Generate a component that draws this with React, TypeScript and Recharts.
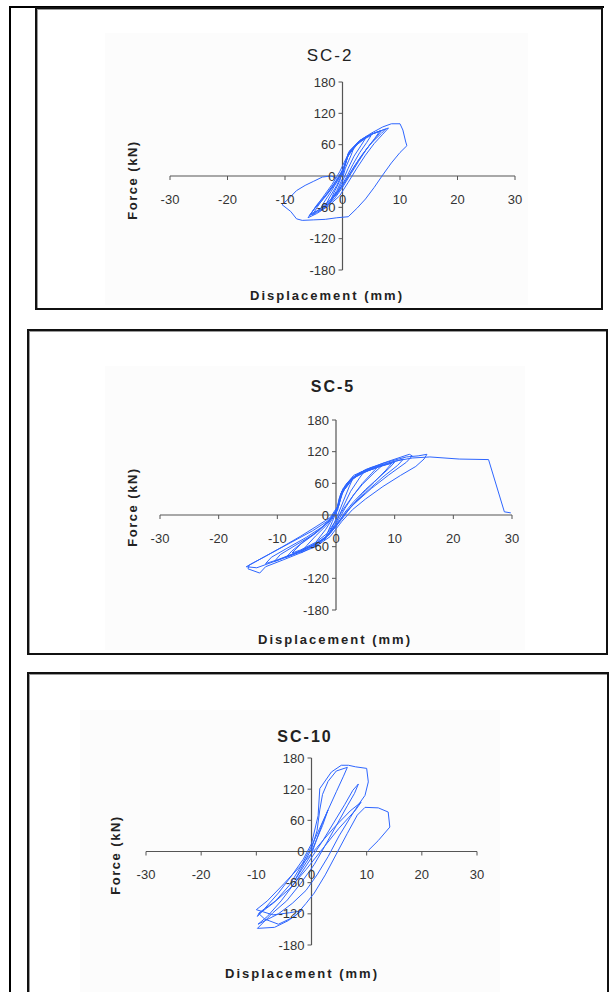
import { LineChart, Line, XAxis, YAxis, ReferenceLine } from 'recharts'

const xTicks = [-30, -20, -10, 0, 10, 20, 30]
const yTicks = [-180, -120, -60, 0, 60, 120, 180]

// [displacement (mm), force (kN)]
const sc2: [number, number][] = [
  [0, 0], [0.5, 25], [1, 40], [2, 55], [1.5, 40], [0.5, 15], [0, -5], [-1, -28], [-2, -45], [-1.5, -32], [-0.5, -10], [0, 8],
  [0.8, 35], [2, 55], [3, 66], [4, 72], [3.2, 58], [2, 38], [1, 15], [0, -10], [-1, -32], [-2, -48], [-3, -58], [-2.3, -42], [-1, -18], [0, 6],
  [1, 40], [2.5, 60], [4, 72], [5, 78], [4.2, 64], [3, 45], [1.8, 22], [0.8, 0], [-0.5, -25], [-2, -48], [-3, -60], [-4, -66], [-3.2, -50], [-2, -30], [-0.8, -8], [0.2, 15],
  [1, 42], [2.5, 62], [4, 74], [5.5, 82], [6.5, 86], [5.6, 72], [4.2, 52], [2.8, 28], [1.5, 5], [0, -22], [-1.5, -45], [-3, -60], [-4.5, -70], [-5.2, -74], [-4.3, -58], [-3, -38], [-1.5, -15], [0, 10],
  [1.2, 48], [3, 68], [5, 80], [6.8, 87], [6, 76], [4.5, 56], [3, 34], [1.5, 8], [0, -18], [-2, -44], [-4, -64], [-5.5, -73], [-4.5, -56], [-2.5, -32], [-1, -8], [0.5, 22],
  [1, 44], [2.5, 63], [4, 75], [6, 84], [7.5, 90], [6.8, 82], [5, 63], [3.5, 42], [2, 18], [0.5, -10], [-1, -35], [-3, -56], [-5, -72], [-5.8, -76], [-4.8, -62], [-3, -40], [-1.2, -14], [0.2, 12],
  [1, 40], [3, 66], [5, 80], [7, 88], [8, 92], [7, 80], [5.5, 62], [4, 40], [2.5, 15], [1, -12], [-0.5, -38], [-2.5, -58], [-4.5, -72], [-6, -80], [-5, -64], [-3.5, -42], [-1.8, -16], [-0.5, 8],
  [1, 42], [3, 68], [5, 82], [7, 94], [8.5, 100], [10, 100], [10.5, 88], [11, 65], [11.2, 58], [10, 45], [8.5, 25], [7, 2], [5.5, -22], [4, -44], [2.5, -62], [1, -78],
  [-1, -80], [-3, -83], [-5, -84], [-7, -85], [-8, -82], [-9, -68], [-10.5, -55], [-9.5, -45], [-8, -28], [-6.5, -18], [-5, -10], [-3.5, -2], [-2, 0], [-1, -4],
]

const sc5: [number, number][] = [
  [0, 0], [0.5, 30], [1, 45], [2, 62], [3, 72], [2.3, 55], [1.2, 25], [0.3, 0], [-0.5, -20], [-1.2, -35], [-2, -48], [-1.5, -35], [-0.6, -12], [0, 5],
  [0.8, 40], [2, 62], [3.5, 76], [5, 85], [4, 70], [2.5, 45], [1.2, 15], [0, -15], [-1.5, -40], [-3, -55], [-4, -62], [-3.2, -48], [-1.8, -28], [-0.5, -5], [0.3, 15],
  [1, 45], [2.5, 66], [4.5, 80], [7, 90], [6, 78], [4.5, 60], [3, 38], [1.5, 12], [0, -18], [-2, -45], [-4, -60], [-6, -72], [-5, -58], [-3.5, -40], [-1.5, -18], [0, 5],
  [1.2, 50], [3, 72], [5, 84], [8, 95], [6.5, 80], [4.5, 58], [3, 38], [1.5, 15], [0, -10], [-1.5, -35], [-3.5, -52], [-6, -66], [-7.5, -72], [-6, -55], [-3.5, -35], [-1, -10], [0.5, 18],
  [1, 42], [3, 70], [5.5, 84], [8, 94], [9.5, 98], [8.5, 85], [6.5, 62], [4.5, 40], [2.5, 15], [1, -8], [-1, -35], [-3.5, -55], [-6, -70], [-8.5, -80], [-7.5, -68], [-5.5, -50], [-3, -30], [-1, -8], [0.2, 12],
  [1, 42], [2.5, 64], [4, 78], [7, 90], [10, 100], [9, 88], [7, 68], [5, 48], [3, 25], [1.5, 5], [0, -22], [-2, -46], [-5, -64], [-8, -78], [-10.5, -88], [-9.5, -75], [-7, -58], [-4, -38], [-1.5, -15], [0.3, 10],
  [1, 45], [3, 72], [6, 88], [9, 98], [11.5, 106], [10.5, 94], [8, 72], [5, 42], [2.5, 15], [1, -5], [-1.2, -38], [-4, -58], [-7, -72], [-10, -85], [-12, -92], [-11, -80], [-8.5, -64], [-5, -42], [-2, -20], [0, 2],
  [1, 40], [2.5, 68], [5, 86], [9, 102], [12.5, 115], [13, 112], [12, 100], [9, 76], [6, 50], [3, 20], [1.5, 2], [0, -20], [-2, -45], [-6, -68], [-10, -86], [-13.5, -100], [-15.3, -98], [-14, -90], [-11, -72], [-8, -54], [-4, -30], [-1.5, -12], [0, 5],
  [0.8, 35], [2, 62], [4, 80], [8, 98], [12, 110], [14, 112], [15.5, 115], [15, 106], [13.6, 92], [11, 75], [8, 54], [5, 30], [2.8, 10], [1, -12], [-1, -41], [-3.5, -60], [-6.3, -73], [-9, -85], [-12, -98], [-13, -110], [-15, -102], [-14.8, -95], [-12, -78], [-9.1, -60], [-6, -40], [-3.4, -22], [-1, -5],
  [0.5, 20], [1.5, 55], [3, 75], [6, 90], [10, 102], [13, 108], [16, 110], [21, 106], [26, 105], [28.7, 6], [29.8, 4],
]

const sc10: [number, number][] = [
  [0, 0], [1, 25], [2, 50], [3, 80], [2, 55], [1, 25], [0, -5], [-1.5, -30], [-3, -55], [-2, -35], [-1, -15], [0, 5],
  [1, 40], [1.5, 80], [2, 110], [3, 135], [4.5, 155], [6.5, 162], [5.8, 145], [4.5, 115], [3, 80], [1.5, 45], [0, 10], [-2, -30], [-4, -65], [-6.5, -95], [-9.5, -118], [-9.8, -125],
  [-8.5, -110], [-6, -80], [-3.5, -45], [-1.5, -15], [0, 15], [1.2, 69], [1.5, 121], [3.6, 153], [5.4, 166], [6.7, 166], [8, 163], [10, 160], [10.3, 134], [9.7, 108],
  [8.5, 90], [7, 65], [5, 30], [3, -10], [1, -45], [-1, -75], [-3.5, -100], [-6, -120], [-9.7, -140], [-8, -125], [-5.5, -95], [-3, -60], [-0.5, -20], [2, 20], [4, 55], [6, 90], [7.5, 118], [8.5, 130],
  [7.8, 112], [6.5, 88], [4.5, 50], [2.5, 12], [0.5, -25], [-2, -62], [-4.5, -95], [-7, -118], [-9.8, -148], [-6.7, -146], [-4.2, -133], [-1.8, -114],
  [-4, -118], [-7, -122], [-10, -112], [-8, -95], [-5, -62], [-2, -28], [1, 8], [4, 45], [7, 78], [9, 95], [8, 80], [5, 45], [2, 5], [-1, -35], [-4, -72], [-7, -100], [-9.5, -120],
  [-8.5, -130], [-6, -140], [-3, -125], [-1, -100], [0.5, -80], [2.5, -45], [4.5, -5], [6.5, 35], [8.3, 70], [9.7, 85], [12.1, 84], [13.9, 76], [14.2, 47], [12.1, 21], [10.3, 2],
]

const lineColor = '#2e66ff'
const axisColor = '#555'
const textColor = '#333'
const font = '"Liberation Sans", Arial, sans-serif'
const M = 20

function renderXTick(props: any, zeroY: number) {
  const { x, payload } = props
  return (
    <g>
      <line x1={x} x2={x} y1={zeroY} y2={zeroY + 4} stroke={axisColor} />
      <text x={x} y={zeroY + 23} textAnchor="middle" dominantBaseline="central" fontSize={13} fill={textColor} fontFamily={font}>
        {payload.value}
      </text>
    </g>
  )
}

function renderYTick(props: any, zeroX: number) {
  const { y, payload } = props
  return (
    <g>
      <line x1={zeroX - 4} x2={zeroX} y1={y} y2={y} stroke={axisColor} />
      <text x={zeroX - 7} y={y} textAnchor="end" dominantBaseline="central" fontSize={13} fill={textColor} fontFamily={font}>
        {payload.value}
      </text>
    </g>
  )
}

interface Rect { left: number; top: number; width: number; height: number }

interface PanelProps {
  title: string
  data: [number, number][]
  box: Rect
  area: Rect
  plot: Rect
  titlePos: [number, number]
  forcePos: [number, number]
  dispPos: [number, number]
  boldTitle?: boolean
}

function Panel({ title, data, box, area, plot, titlePos, forcePos, dispPos, boldTitle }: PanelProps) {
  const rows = data.map(([d, f]) => ({ d, f }))
  // the axes take 1px each, so the plot starts at M on every side
  const zeroX = M + plot.width / 2
  const zeroY = M + plot.height / 2
  const label = (pos: [number, number], text: string, style: React.CSSProperties) => (
    <div
      style={{
        position: 'absolute', left: pos[0], top: pos[1], transform: 'translate(-50%, -50%)',
        fontFamily: font, color: '#222', whiteSpace: 'nowrap', lineHeight: 1, ...style,
      }}
    >
      {text}
    </div>
  )
  return (
    <>
      <div style={{ position: 'absolute', ...box, border: '2px solid #111', boxSizing: 'border-box', boxShadow: 'inset 1px 1px 0 #999' }} />
      <div style={{ position: 'absolute', ...area, background: '#fcfcfc' }} />
      <div style={{ position: 'absolute', left: plot.left - M, top: plot.top - M }}>
        <LineChart
          width={plot.width + 2 * M}
          height={plot.height + 2 * M}
          data={rows}
          margin={{ top: M, right: M, bottom: M - 1, left: M - 1 }}
        >
          <XAxis
            type="number"
            dataKey="d"
            domain={[-30, 30]}
            ticks={xTicks}
            height={1}
            axisLine={false}
            tickLine={false}
            interval={0}
            tick={(p: any) => renderXTick(p, zeroY)}
          />
          <YAxis
            type="number"
            dataKey="f"
            domain={[-180, 180]}
            ticks={yTicks}
            width={1}
            axisLine={false}
            tickLine={false}
            interval={0}
            tick={(p: any) => renderYTick(p, zeroX)}
          />
          <ReferenceLine y={0} stroke={axisColor} strokeWidth={1.2} />
          <ReferenceLine x={0} stroke={axisColor} strokeWidth={1.2} />
          <Line type="linear" dataKey="f" stroke={lineColor} strokeWidth={1} dot={false} isAnimationActive={false} />
        </LineChart>
      </div>
      {label(titlePos, title, { fontSize: boldTitle ? 16 : 17, letterSpacing: 2, fontWeight: boldTitle ? 700 : 400 })}
      {label(forcePos, 'Force (kN)', { fontSize: 13, fontWeight: 700, letterSpacing: 1.5, transform: 'translate(-50%, -50%) rotate(-90deg)' })}
      {label(dispPos, 'Displacement (mm)', { fontSize: 13, fontWeight: 700, letterSpacing: 2 })}
    </>
  )
}

export default function App() {
  return (
    <div style={{ position: 'absolute', left: 0, top: 0, width: 613, height: 992, background: '#fff', overflow: 'hidden' }}>
      <div style={{ position: 'absolute', left: 9, top: 6, width: 2, height: 986, background: '#000' }} />
      <div style={{ position: 'absolute', left: 9, top: 6, width: 595, height: 2, background: '#000' }} />
      <Panel
        title="SC-2"
        data={sc2}
        box={{ left: 35, top: 7, width: 568, height: 303 }}
        area={{ left: 105, top: 33, width: 423, height: 272 }}
        plot={{ left: 170, top: 82, width: 345, height: 188 }}
        titlePos={[330, 55]}
        forcePos={[132, 180]}
        dispPos={[327, 295]}
      />
      <Panel
        title="SC-5"
        data={sc5}
        box={{ left: 27, top: 329, width: 581, height: 326 }}
        area={{ left: 105, top: 366, width: 420, height: 284 }}
        plot={{ left: 160, top: 420, width: 352, height: 190 }}
        titlePos={[333, 387]}
        forcePos={[132, 507]}
        dispPos={[335, 639]}
        boldTitle
      />
      <Panel
        title="SC-10"
        data={sc10}
        box={{ left: 27, top: 672, width: 582, height: 340 }}
        area={{ left: 80, top: 710, width: 420, height: 282 }}
        plot={{ left: 146, top: 758, width: 331, height: 187 }}
        titlePos={[305, 737]}
        forcePos={[115, 855]}
        dispPos={[302, 973]}
        boldTitle
      />
    </div>
  )
}
